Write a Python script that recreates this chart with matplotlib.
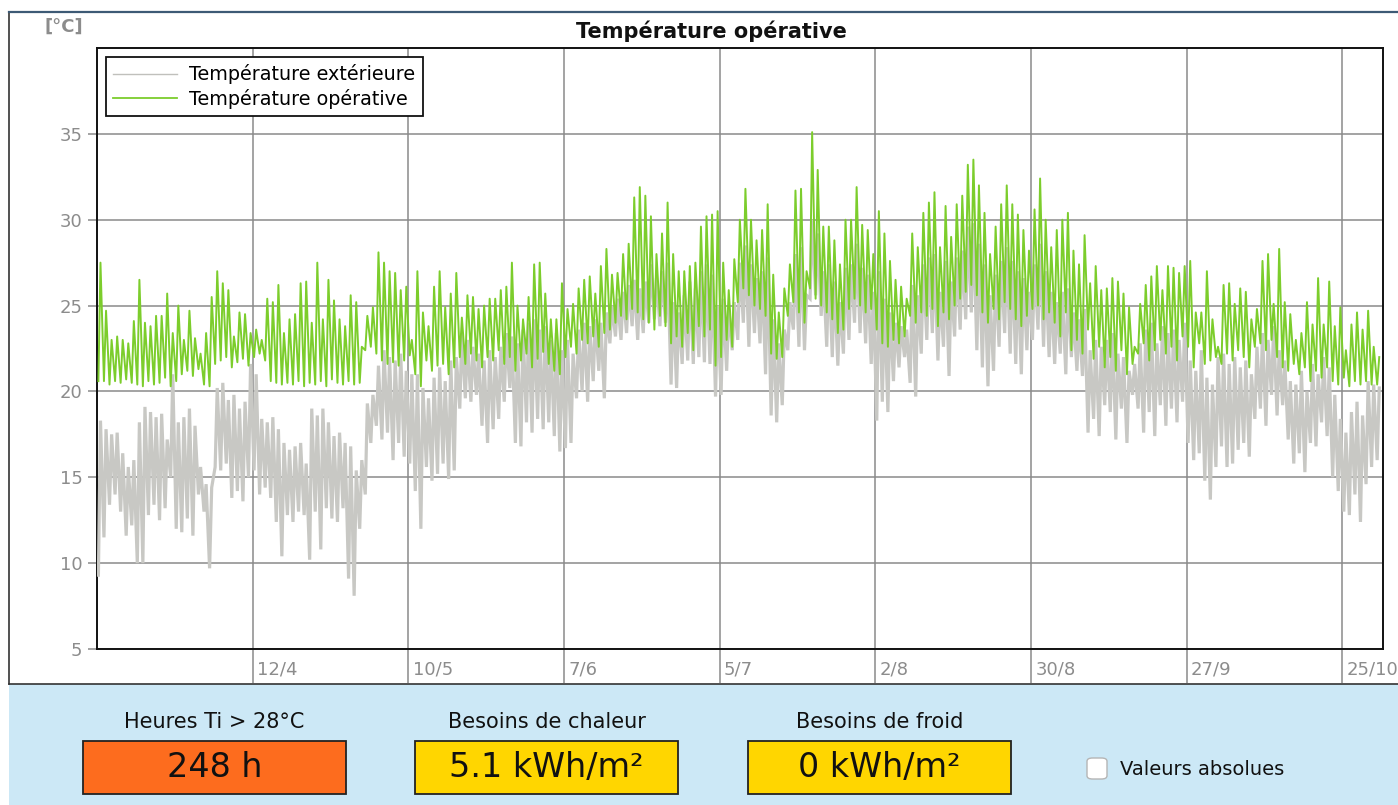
import numpy as np
import matplotlib.pyplot as plt
from matplotlib.patches import Rectangle, FancyBboxPatch
from matplotlib.lines import Line2D

plt.rcParams['font.family'] = ['DejaVu Sans']

# daily maxima / minima, one value per day from 15/3
op_max = [
    27.5, 24.7, 23.0, 23.2, 23.0, 22.8, 24.1, 26.5, 24.0, 23.8,
    24.4, 24.4, 25.7, 23.4, 25.0, 23.0, 24.7, 23.1, 22.2, 23.4,
    25.5, 27.0, 26.3, 25.9, 23.2, 24.6, 24.5, 23.4, 23.6, 23.0,
    25.4, 25.2, 26.2, 23.4, 24.2, 24.5, 26.3, 26.4, 24.0, 27.5,
    24.2, 26.5, 25.3, 24.2, 23.8, 25.6, 25.2, 22.6, 24.4, 24.9,
    28.1, 27.5, 27.0, 26.9, 25.9, 26.1, 23.0,
    27.0, 24.6, 23.8, 26.1, 27.0, 24.9, 25.7, 26.9, 24.3, 25.6,
    25.5, 24.8, 25.0, 25.4, 25.4, 25.9, 26.1, 27.5, 25.0, 24.2,
    25.5, 27.4, 27.5, 25.7, 24.2, 24.2, 26.3, 24.8, 25.1, 26.0,
    26.5, 26.7, 25.7, 27.3, 28.3, 26.8, 26.9, 28.0, 28.6, 31.3,
    31.9, 31.4, 30.2, 28.0, 29.2, 31.0, 28.0, 27.0, 27.0, 27.3,
    27.5, 29.6, 30.2, 30.3, 30.5, 27.5, 25.9, 27.7,
    30.0, 31.8, 30.0, 28.8, 29.4, 30.9, 26.8, 24.6, 26.0, 27.4,
    31.7, 31.8, 27.0, 35.1, 32.9, 29.6, 29.6, 28.8, 27.4, 30.0,
    30.0, 31.9, 29.7, 29.4, 28.0, 30.5, 29.2, 27.6, 26.5, 26.1,
    25.4, 29.2, 28.4, 30.4, 31.0, 31.6, 28.4, 30.8, 29.0, 30.9,
    31.4, 33.2, 33.5, 32.0, 30.4, 28.0, 29.6, 30.9, 32.0, 30.9,
    30.3, 29.4, 28.2, 30.6, 32.4, 30.0, 28.4,
    29.4, 30.0, 30.4, 28.2, 27.4, 29.1, 26.3, 27.3, 25.9, 26.0,
    26.6, 26.4, 25.7, 24.9, 22.6, 25.1, 26.2, 26.7, 27.3, 25.9,
    27.3, 27.2, 26.9, 27.3, 27.6, 24.6, 24.6, 27.0, 24.2, 22.6,
    26.2, 26.3, 25.1, 26.0, 25.8, 24.2, 24.8, 27.6, 28.0, 25.1,
    28.3, 25.2, 24.5, 23.0, 23.4, 25.2, 23.9, 26.6, 23.9, 26.4,
    23.8, 24.9, 22.4, 23.9, 24.6, 23.6, 24.7, 22.6, 22.0,
]
op_min = [
    20.6, 20.6, 20.4, 20.6, 20.5, 20.7, 20.5, 20.4, 20.3, 20.6,
    20.4, 20.5, 20.8, 20.3, 20.6, 21.0, 21.2, 20.9, 21.3, 20.4,
    20.3, 21.6, 21.8, 22.0, 21.4, 21.7, 21.9, 21.5, 22.0, 22.2,
    21.8, 20.6, 20.5, 20.4, 20.5, 20.4, 20.6, 20.3, 20.5, 20.4,
    20.6, 20.3, 20.7, 20.5, 20.4, 20.6, 20.4, 20.5, 22.4, 22.6,
    22.2, 21.8, 21.6, 21.7, 21.5, 21.8, 22.1,
    21.0, 20.3, 21.8, 21.2, 21.5, 21.6, 21.0, 21.4, 22.0, 21.6,
    22.2, 21.8, 21.4, 22.0, 21.8, 22.4, 21.6, 22.0, 21.2, 21.8,
    22.2, 21.4, 21.9, 22.3, 21.6, 21.2, 21.0, 22.0, 22.6, 22.2,
    23.0, 22.8, 23.2, 22.6, 23.4, 23.6, 24.0, 24.4, 24.2, 24.8,
    24.6, 24.2, 24.0, 23.6, 24.4, 23.8, 22.8, 23.2, 22.6, 23.4,
    22.4, 23.8, 23.2, 23.6, 21.5, 22.0, 23.0, 22.6,
    25.2, 26.0, 25.6, 25.0, 24.8, 24.4, 22.2, 21.9, 22.0, 24.4,
    25.2, 24.6, 24.0, 26.0, 25.4, 25.0, 24.6, 24.2, 23.4, 23.6,
    24.8, 25.4, 25.0, 24.6, 24.8, 23.6, 22.8, 22.6, 23.0, 22.8,
    23.2, 24.4, 24.0, 24.6, 24.4, 24.8, 23.8, 24.6, 24.2, 25.0,
    25.4, 25.8, 26.2, 25.6, 24.6, 24.0, 24.8, 24.2, 25.2, 24.8,
    24.2, 23.8, 24.4, 24.8, 25.0, 24.2, 24.6,
    24.0, 23.2, 24.6, 22.4, 23.0, 22.2, 23.6, 21.9, 22.6, 21.4,
    22.0, 21.2, 22.4, 21.0, 21.6, 22.2, 22.8, 21.8, 22.4, 23.0,
    22.2, 22.6, 21.8, 23.2, 22.6, 21.4, 22.8, 21.6, 21.8, 22.0,
    21.6, 22.2, 21.8, 22.4, 22.0, 21.4, 22.6, 22.8, 22.4, 23.0,
    22.0, 21.4, 21.2, 21.6, 21.0, 21.4, 20.6, 21.2, 20.8, 21.4,
    20.6, 20.4, 20.8, 20.3, 20.6, 20.4, 20.6, 20.4, 20.4,
]
ext_max = [
    18.3, 17.8, 17.5, 17.6, 16.4, 15.6, 16.0, 18.2, 19.1, 18.8,
    18.5, 18.7, 17.2, 21.0, 18.2, 18.5, 19.0, 18.0, 15.6, 14.6,
    14.4, 20.2, 20.5, 19.5, 19.8, 19.0, 19.4, 21.6, 21.0, 18.4,
    18.2, 18.5, 17.8, 17.0, 16.6, 16.8, 17.0, 15.8, 19.0, 18.6,
    19.0, 18.2, 17.4, 17.6, 17.0, 16.8, 15.4, 16.0, 19.3, 19.8,
    21.5, 22.4, 22.0, 21.8, 22.2, 21.2, 21.0,
    21.0, 20.2, 19.6, 20.8, 21.4, 20.6, 21.8, 22.0, 23.4, 23.0,
    22.6, 22.2, 21.8, 22.4, 22.0, 22.6, 23.4, 23.2, 22.8, 23.6,
    24.0, 24.2, 23.6, 23.8, 23.0, 23.4, 22.4, 23.0, 22.2, 23.6,
    24.0, 23.8, 24.2, 24.0, 24.6, 25.0, 25.4, 25.8, 26.2, 26.5,
    26.0, 26.4, 27.4, 26.6, 27.0, 27.5, 25.2, 24.6, 25.6, 26.4,
    26.0, 27.0, 27.4, 26.8, 25.0, 25.4, 24.8, 25.2,
    27.5, 28.5, 27.4, 26.6, 27.0, 27.8, 24.2, 22.8, 23.6, 25.2,
    28.0, 28.4, 25.6, 30.0, 29.2, 27.0, 27.4, 26.4, 25.2, 27.2,
    27.4, 28.6, 27.2, 26.8, 25.8, 27.0, 25.4, 24.6, 24.0, 23.8,
    23.6, 26.2, 25.6, 27.4, 27.8, 28.0, 25.8, 27.6, 26.4, 27.8,
    28.2, 29.6, 29.8, 28.6, 27.4, 25.6, 26.8, 27.6, 28.4, 27.6,
    27.0, 26.6, 25.8, 27.4, 28.6, 27.0, 25.8,
    25.2, 25.8, 26.0, 24.6, 24.2, 24.8, 22.4, 23.0, 22.6, 23.0,
    23.4, 22.2, 22.0, 21.2, 21.6, 22.8, 23.6, 24.0, 22.8, 23.8,
    23.4, 23.6, 23.0, 24.0, 21.8, 21.2, 22.4, 20.8, 20.4, 22.0,
    22.2, 21.6, 22.0, 21.4, 21.8, 21.0, 22.6, 23.4, 23.0, 23.8,
    22.4, 21.8, 20.6, 20.4, 21.2, 20.0, 21.6, 21.0, 22.0, 21.4,
    19.8, 18.4, 17.6, 18.8, 19.4, 18.6, 20.6, 20.4, 20.2,
]
ext_min = [
    9.3, 11.5, 13.4, 14.0, 13.0, 11.6, 12.2, 10.0, 10.0, 12.8,
    13.4, 12.5, 13.2, 15.0, 12.0, 11.8, 12.6, 11.6, 14.0, 13.0,
    9.7, 15.6, 15.4, 15.8, 13.8, 14.2, 13.6, 15.0, 15.4, 14.0,
    14.4, 13.8, 12.4, 10.4, 12.8, 12.4, 13.0, 12.8, 10.2, 13.0,
    10.8, 13.2, 12.6, 12.4, 13.2, 9.1, 8.1, 12.0, 14.0, 17.0,
    18.0, 17.2, 17.6, 16.0, 17.0, 16.2, 15.8,
    14.2, 12.0, 15.6, 14.8, 15.2, 15.8, 14.9, 15.4, 19.0, 19.6,
    19.4, 19.8, 18.0, 17.0, 17.8, 18.4, 19.4, 20.2, 17.0, 16.8,
    18.2, 17.6, 18.4, 17.8, 18.2, 17.4, 16.5, 16.7, 17.0, 19.6,
    20.0, 19.4, 20.6, 21.2, 19.6, 22.8, 23.2, 23.0, 23.4, 23.8,
    23.0, 23.4, 24.0, 24.2, 23.8, 24.0, 20.4, 20.2, 21.6, 21.8,
    21.6, 22.0, 21.7, 21.6, 19.7, 19.8, 21.2, 22.4,
    23.0, 24.0, 22.6, 23.4, 22.8, 21.0, 18.6, 18.2, 19.2, 22.4,
    23.6, 22.6, 22.4, 25.4, 25.6, 24.4, 22.6, 22.0, 21.5, 22.2,
    23.0, 24.0, 23.4, 22.8, 21.6, 18.3, 19.4, 18.8, 20.6, 21.4,
    22.0, 20.5, 19.7, 22.2, 23.0, 23.4, 21.8, 22.6, 20.9, 23.2,
    23.6, 24.2, 24.6, 22.4, 21.4, 20.3, 21.2, 22.6, 23.4, 22.2,
    21.6, 21.0, 22.4, 23.0, 23.6, 22.6, 22.0,
    21.6, 22.2, 21.0, 22.0, 21.2, 20.9, 17.6, 18.4, 17.4, 19.2,
    18.8, 17.2, 19.0, 17.0, 19.8, 19.0, 17.6, 18.8, 17.4, 19.2,
    18.0, 19.0, 18.2, 19.4, 17.0, 16.0, 16.4, 14.8, 13.7, 15.6,
    16.8, 15.6, 15.8, 16.6, 17.0, 16.2, 18.4, 19.0, 18.0, 19.8,
    18.6, 19.2, 17.2, 15.8, 16.4, 15.3, 17.0, 16.8, 18.2, 17.4,
    15.0, 14.2, 13.0, 12.8, 14.0, 12.4, 14.6, 15.6, 16.0,
]

tick_days = [28, 56, 84, 112, 140, 168, 196, 224]
tick_labels = ['12/4', '10/5', '7/6', '5/7', '2/8', '30/8', '27/9', '25/10']
y_ticks = [5, 10, 15, 20, 25, 30, 35]

kpi_titles = ['Heures Ti > 28°C', 'Besoins de chaleur', 'Besoins de froid']
kpi_values = ['248 h', '5.1 kWh/m²', '0 kWh/m²']
kpi_colors = ['#fd6c1e', '#ffd600', '#ffd600']

W, H = 1398, 805


def fx(px):
    return px / W


def fy(py):
    return 1 - py / H


# min in the early morning, max in the afternoon
days = np.arange(len(op_max))
t = np.column_stack([days + 0.25, days + 0.625]).ravel()
op = np.column_stack([op_min, op_max]).ravel()
ext = np.column_stack([ext_min, ext_max]).ravel()

fig = plt.figure(figsize=(W / 100, H / 100), dpi=100)
fig.patch.set_facecolor('white')

# panel under the chart
fig.patches.append(Rectangle((fx(9), 0), 1 - fx(9), fy(684), transform=fig.transFigure,
                             facecolor='#cce8f6', edgecolor='none', zorder=0))
fig.add_artist(Line2D([fx(9), fx(9)], [fy(684), fy(12)], color='#333333', lw=1.2))
fig.add_artist(Line2D([fx(9), 1], [fy(12), fy(12)], color='#3d5a75', lw=1.6))
fig.add_artist(Line2D([fx(9), 1], [fy(684), fy(684)], color='#333333', lw=1.2))

ax = fig.add_axes([fx(97), fy(649), fx(1383) - fx(97), fy(48) - fy(649)])

grid_col = '#8a8a8a'
ax.plot(t, ext, color='#c8c8c4', lw=2.3, solid_joinstyle='miter', zorder=3)
ax.plot(t, op, color='#7ccd2c', lw=1.4, zorder=4)

ax.set_xlim(0, 231.3)
ax.set_ylim(5, 40)
ax.set_yticks(y_ticks)
ax.set_yticklabels([str(v) for v in y_ticks])
ax.set_xticks(tick_days)
ax.set_xticklabels([])
ax.grid(True, color=grid_col, lw=1.1, zorder=1)
ax.set_axisbelow(True)
ax.tick_params(axis='y', colors=grid_col, labelcolor='#8c8c8c', labelsize=13,
               length=6.5, width=1.1, pad=4)
ax.tick_params(axis='x', colors=grid_col, length=24.5, width=1.1, direction='out')
for s in ax.spines.values():
    s.set_color('#111111')
    s.set_linewidth(1.4)

for d, lab in zip(tick_days, tick_labels):
    ax.annotate(lab, xy=(d, 0), xycoords=('data', 'axes fraction'),
                xytext=(3, -14.5), textcoords='offset points',
                ha='left', va='center', fontsize=13, color='#8c8c8c',
                annotation_clip=False)

handles = [Line2D([], [], color='#c0c0bc', lw=1.0),
           Line2D([], [], color='#7ccd2c', lw=1.3)]
leg = ax.legend(handles, ['Température extérieure', 'Température opérative'],
                loc='upper left', fontsize=13.8, fancybox=False, framealpha=1,
                edgecolor='#111111', borderaxespad=0.45, handlelength=3.3,
                handletextpad=0.65, borderpad=0.4, labelspacing=0.22)
leg.get_frame().set_linewidth(1.3)
leg.set_zorder(6)

fig.text(fx(711), fy(31), 'Température opérative', ha='center', va='center',
         fontsize=15, fontweight='bold', color='#111111')
fig.text(fx(45), fy(27), '[°C]', ha='left', va='center', fontsize=13,
         fontweight='bold', color='#8c8c8c')

# KPI boxes
box_left = [83, 415, 748]
for x0, title, val, col in zip(box_left, kpi_titles, kpi_values, kpi_colors):
    xc = x0 + 131.5
    fig.text(fx(xc), fy(722), title, ha='center', va='center', fontsize=15,
             color='#111111')
    fig.patches.append(Rectangle((fx(x0), fy(794)), fx(263), fy(741) - fy(794),
                                 transform=fig.transFigure, facecolor=col,
                                 edgecolor='#222222', lw=1.3))
    fig.text(fx(xc), fy(767), val, ha='center', va='center', fontsize=24,
             color='#111111')

fig.patches.append(FancyBboxPatch((fx(1087), fy(779)), fx(20), fy(758) - fy(779),
                                  boxstyle='round,pad=0,rounding_size=0.004',
                                  transform=fig.transFigure, facecolor='white',
                                  edgecolor='#b5b5b5', lw=1.0))
fig.text(fx(1120), fy(769), 'Valeurs absolues', ha='left', va='center',
         fontsize=14, color='#111111')

fig.savefig('out.png', dpi=100)
